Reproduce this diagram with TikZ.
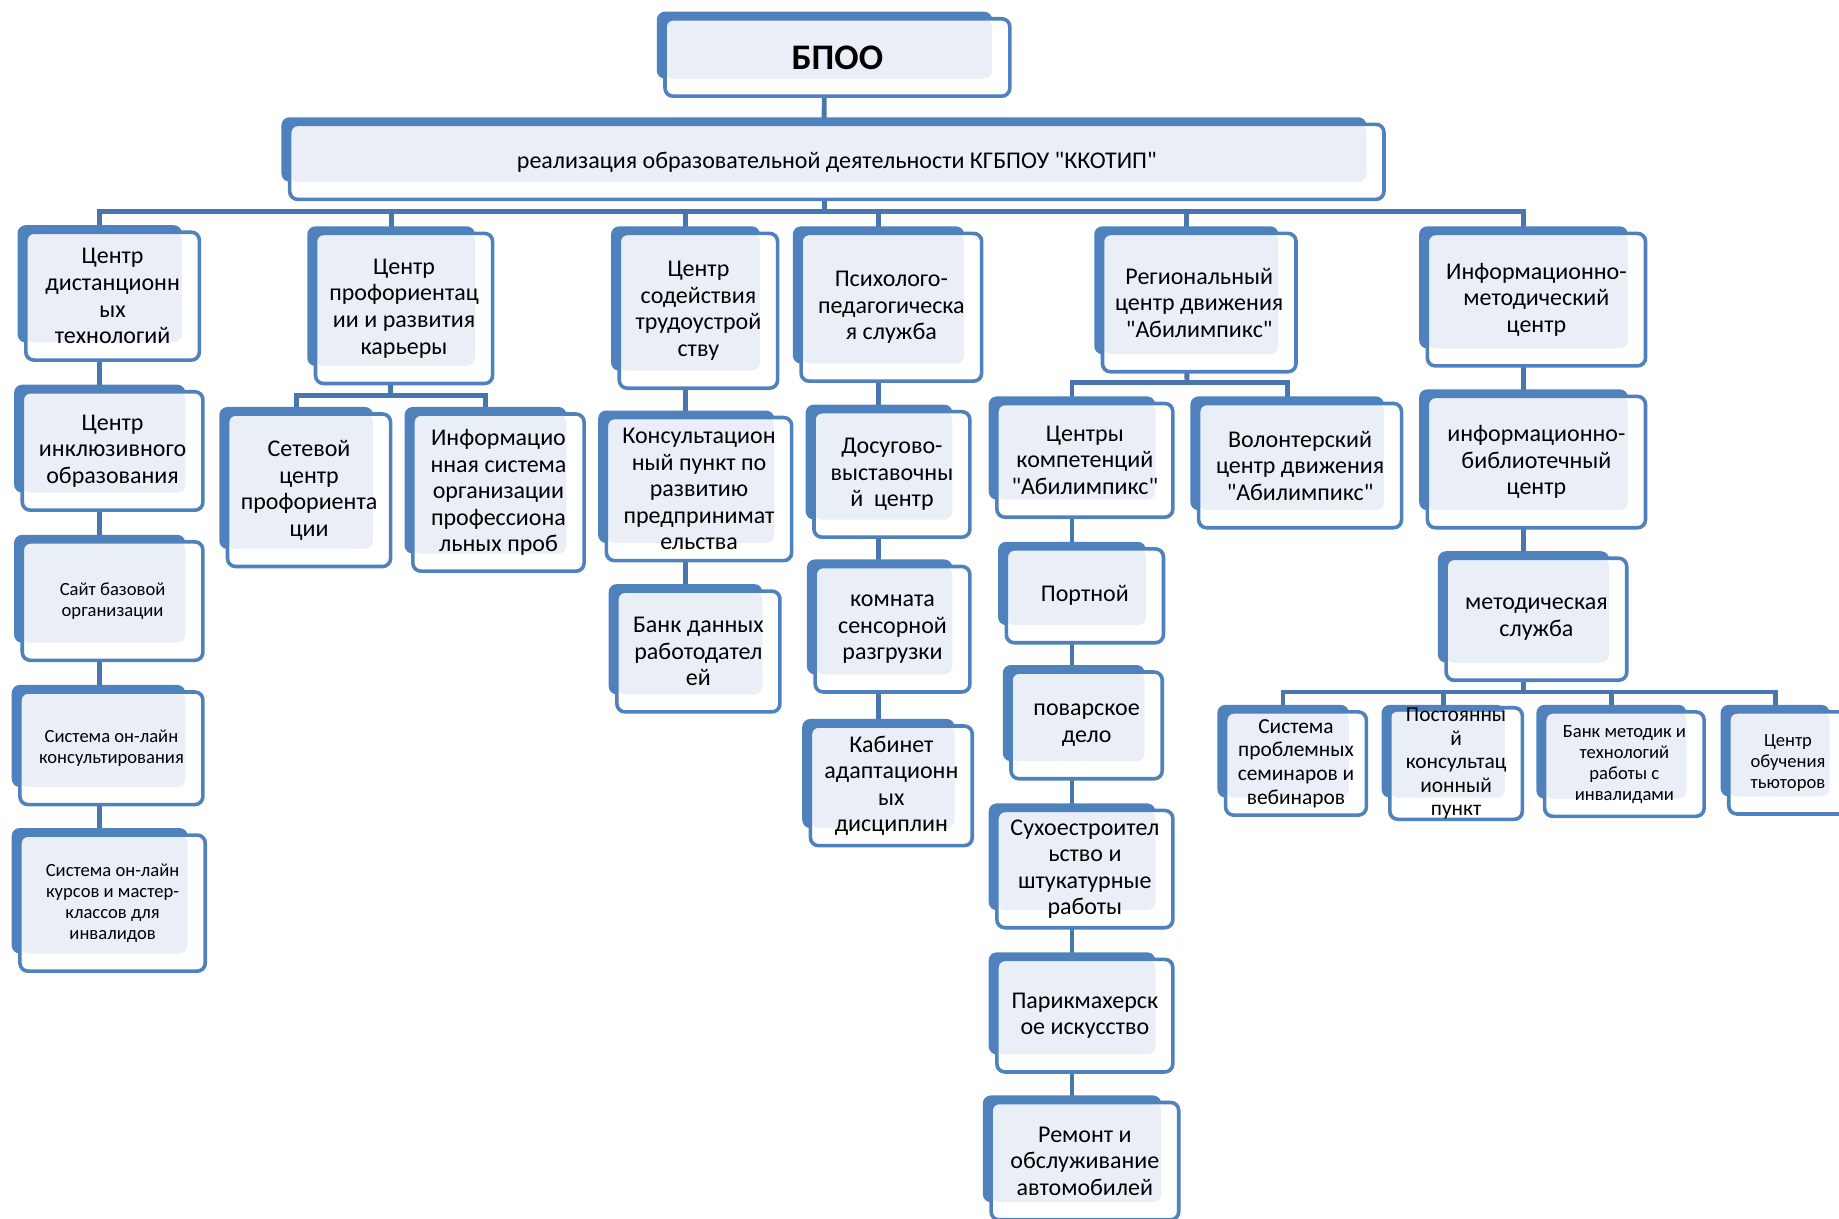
\documentclass[tikz,border=0pt]{standalone}
\usepackage{fontspec}
\setmainfont{Carlito}[Ligatures=TeXOff]
\usetikzlibrary{backgrounds}
\definecolor{bblue}{HTML}{4F81BD}
\definecolor{cblue}{HTML}{4A76AE}
\definecolor{lfill}{HTML}{EAEFF7}
\def\pxu{0.5864pt}
\newcommand\fm{\fontsize{12}{13.3}\selectfont}
\newcommand\fsm{\fontsize{9.3}{10.5}\selectfont}
\newcommand\fmid{\fontsize{10.7}{11.8}\selectfont}
\newcommand\fbig{\fontsize{18}{20}\selectfont\bfseries}
\tikzset{
  backbox/.style={fill=bblue, rounded corners=4pt, inner sep=0pt, draw=none},
  frontbox/.style={draw=bblue, line width=1.8pt, rounded corners=4pt, inner sep=0pt, align=center, text=black},
  conn/.style={draw=cblue, line width=2.4pt},
}
% #1 name, #2 bx1, #3 by1, #4 bx2, #5 by2 (back box), #6 font, #7 text
\newcommand\bx[7]{%
  \node[backbox, minimum width={(#4-#2)*\pxu}, minimum height={(#5-#3)*\pxu}] (#1b) at ({(#2+#4)/2},{(#3+#5)/2}) {};
  \fill[white, rounded corners=4pt] (#2+7,#3+6) rectangle (#4+15,#5+15);
  \fill[lfill, rounded corners=4pt] (#2+7,#3+6) rectangle (#4,#5);
  \node[frontbox, font=#6, minimum width={(#4-#2+8)*\pxu}, minimum height={(#5-#3+9)*\pxu}] (#1) at ({(#2+#4)/2+11},{(#3+#5)/2+10.5}) {#7};
}
\begin{document}
\begin{tikzpicture}[x=0.5864pt, y=-0.5864pt]
\useasboundingbox (0,0) rectangle (1568,1039);
% top
\bx{top}{560}{10}{846}{67}{\fbig}{БПОО}
\bx{real}{240}{100}{1165}{155}{\fm}{реализация образовательной деятельности КГБПОУ "ККОТИП"}
% column A
\bx{a1}{15}{192}{155}{292}{\fm}{Центр\\дистанционн\\ых\\технологий}
\bx{a2}{12}{328}{158}{420}{\fm}{Центр\\инклюзивного\\образования}
\bx{a3}{12}{456}{158}{548}{\fsm}{Сайт базовой\\организации}
\bx{a4}{10}{584}{158}{671}{\fsm}{Система он-лайн\\консультирования}
\bx{a5}{10}{706}{160}{813}{\fsm}{Система он-лайн\\курсов и мастер-\\классов для\\инвалидов}
% column B
\bx{b1}{262}{193}{405}{312}{\fm}{Центр\\профориентац\\ии и развития\\карьеры}
\bx{b2}{187}{347}{318}{468}{\fm}{Сетевой\\центр\\профориента\\ции}
\bx{b3}{345}{347}{483}{472}{\fm}{Информацио\\нная система\\организации\\профессиона\\льных проб}
% column C
\bx{c1}{521}{193}{648}{316}{\fm}{Центр\\содействия\\трудоустрой\\ству}
\bx{c2}{510}{350}{660}{463}{\fm}{Консультацион\\ный пункт по\\развитию\\предпринимат\\ельства}
\bx{c3}{519}{498}{650}{592}{\fm}{Банк данных\\работодател\\ей}
% column D
\bx{d1}{676}{193}{822}{310}{\fm}{Психолого-\\педагогическа\\я служба}
\bx{d2}{687}{345}{812}{443}{\fm}{Досугово-\\выставочны\\й\ \ центр}
\bx{d3}{688}{477}{812}{575}{\fm}{комната\\сенсорной\\разгрузки}
\bx{d4}{684}{613}{814}{706}{\fm}{Кабинет\\адаптационн\\ых\\дисциплин}
% column E
\bx{e1}{933}{193}{1090}{302}{\fm}{Региональный\\центр движения\\"Абилимпикс"}
\bx{e2}{843}{338}{985}{426}{\fm}{Центры\\компетенций\\"Абилимпикс"}
\bx{e3}{1015}{338}{1180}{435}{\fm}{Волонтерский\\центр движения\\"Абилимпикс"}
\bx{e4}{851}{462}{977}{533}{\fm}{Портной}
\bx{e5}{855}{567}{976}{649}{\fm}{поварское\\дело}
\bx{e6}{843}{685}{985}{776}{\fm}{Сухоестроител\\ьство и\\штукатурные\\работы}
\bx{e7}{843}{812}{985}{899}{\fm}{Парикмахерск\\ое искусство}
\bx{e8}{838}{934}{990}{1025}{\fm}{Ремонт и\\обслуживание\\автомобилей}
% column F
\bx{f1}{1210}{193}{1388}{297}{\fm}{Информационно-\\методический\\центр}
\bx{f2}{1210}{332}{1388}{435}{\fm}{информационно-\\библиотечный\\центр}
\bx{f3}{1226}{470}{1372}{565}{\fm}{методическая\\служба}
\bx{g1}{1038}{601}{1150}{680}{\fmid}{Система\\проблемных\\семинаров и\\вебинаров}
\bx{g2}{1178}{601}{1283}{680}{\fmid}{Постоянны\\й\\консультац\\ионный\\пункт}
\bx{g3}{1310}{601}{1438}{681}{\fsm}{Банк методик и\\технологий\\работы с\\инвалидами}
\bx{g4}{1467}{601}{1560}{679}{\fsm}{Центр\\обучения\\тьюторов}
% connectors
\begin{scope}[on background layer]
  \coordinate (bus1) at (703,180);
  \coordinate (bbus) at (333,337);
  \coordinate (ebus) at (1012,326);
  \coordinate (gbus) at (1299,590);
  \draw[conn] (topb.center) -- (realb.center);
  \draw[conn] (realb.center) -- (bus1);
  \foreach \n in {a1,b1,c1,d1,e1,f1} \draw[conn] (bus1) -| (\n b.center);
  \draw[conn] (a1b.center) -- (a5b.center);
  \draw[conn] (b1b.center) -- (bbus);
  \draw[conn] (bbus) -| (b2b.center);
  \draw[conn] (bbus) -| (b3b.center);
  \draw[conn] (c1b.center) -- (c3b.center);
  \draw[conn] (d1b.center) -- (d4b.center);
  \draw[conn] (e1b.center) -- (ebus);
  \draw[conn] (ebus) -| (e2b.center);
  \draw[conn] (ebus) -| (e3b.center);
  \draw[conn] (e2b.center) -- (e8b.center);
  \draw[conn] (f1b.center) -- (gbus);
  \foreach \n in {g1,g2,g3,g4} \draw[conn] (gbus) -| (\n b.center);
\end{scope}
\end{tikzpicture}
\end{document}
